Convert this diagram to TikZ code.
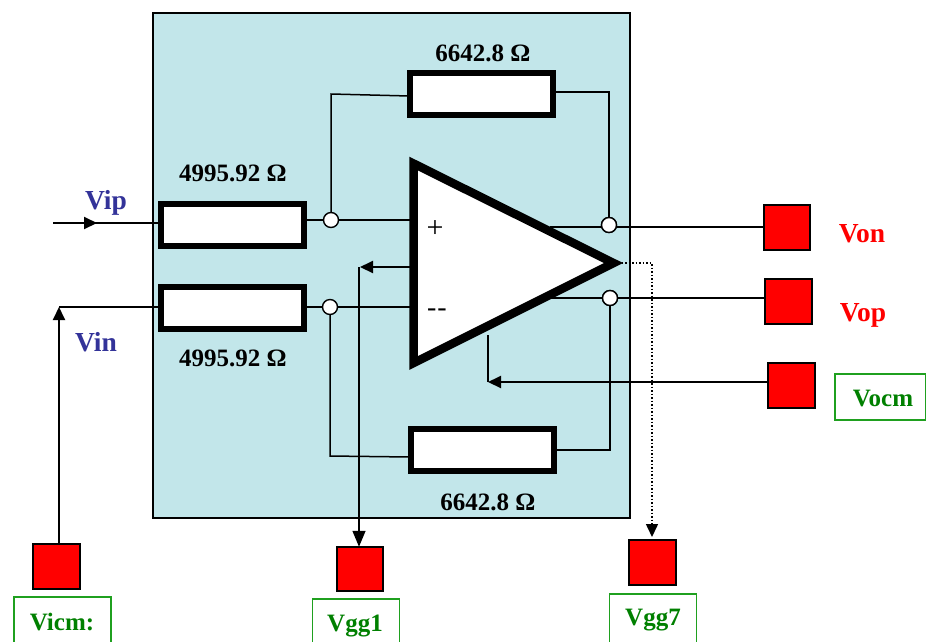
\documentclass[tikz,border=0pt]{standalone}
\usepackage{fontspec}
\setmainfont{Liberation Serif}
\usetikzlibrary{arrows.meta}
\definecolor{panel}{HTML}{C2E6EA}
\definecolor{vblue}{HTML}{333399}
\definecolor{vgreen}{HTML}{008000}
\definecolor{gbox}{HTML}{1FA01F}
\tikzset{
  lbl/.style={font=\fontsize{25}{28}\selectfont\bfseries,inner sep=0pt},
  biglbl/.style={font=\fontsize{27.5}{30}\selectfont\bfseries,inner sep=0pt},
  inlbl/.style={biglbl,text=vblue},
  outlbl/.style={biglbl,text=red},
  genlbl/.style={lbl,text=vgreen},
  gbox/.style={draw=gbox,line width=1.6pt,fill=white},
  res/.style={draw=black,fill=white,line width=6pt,minimum width=143pt,minimum height=42pt,inner sep=0pt,outer sep=0pt},
  pad/.style={draw=black,fill=red,line width=1.6pt,minimum width=46.5pt,minimum height=44.5pt,inner sep=0pt,outer sep=0pt},
  junc/.style={circle,draw=black,fill=white,line width=1.4pt,minimum size=15pt,inner sep=0pt,outer sep=0pt},
  wire/.style={line width=1.5pt},
  hwire/.style={line width=2pt},
  tip/.style={-{Triangle[length=13pt,width=12pt]}},
  longtip/.style={-{Triangle[length=16pt,width=13pt]}}
}
\begin{document}
\begin{tikzpicture}[x=1pt,y=-1pt]
\useasboundingbox (0,0) rectangle (926,641);
\fill[white] (0,0) rectangle (926,641);
\draw[black,fill=panel,line width=1.7pt] (153,13) rectangle (630,518);

% pins and free ends
\coordinate (ipfree) at (53,223);
\coordinate (ipmid) at (97,223);
\coordinate (infree) at (59,307);
\coordinate (plusin) at (413,220);
\coordinate (minusin) at (413,307);
\coordinate (vddpin) at (413,267);
\coordinate (vddend) at (360,267);
\coordinate (vcmend) at (488,382);
\coordinate (vcmpin) at (488,335);
\coordinate (outp) at (550,227);
\coordinate (outn) at (550,298);
\coordinate (tipo) at (618,263);
\coordinate (g7corner) at (652,263);
\coordinate (topbend) at (331,94);
\coordinate (botbend) at (330,456);
\coordinate (g1arrow) at (359,267);

% red pads
\node[pad] (von) at (787,227.5) {};
\node[pad] (vop) at (788.5,301.5) {};
\node[pad] (vocmpad) at (791.5,385.5) {};
\node[pad] (vicmpad) at (56.5,566.5) {};
\node[pad] (vg1pad) at (360,569) {};
\node[pad] (vg7pad) at (652.5,562.5) {};

% resistors
\node[res] (r1) at (232.5,225) {};
\node[res] (r2) at (232.5,308) {};
\node[res] (r3) at (481,94) {};
\node[res] (r4) at (482,450) {};

% junctions
\node[junc] (j1) at (331,220) {};
\node[junc] (j2) at (330,307) {};
\node[junc] (j3) at (609,225) {};
\node[junc] (j4) at (610,298) {};

% wires
\draw[hwire] (ipfree) -- (ipmid);
\draw[hwire,tip] (ipfree) -- (ipmid);
\draw[wire] (ipmid) -- (ipmid -| r1.west);
\draw[wire] (infree) -- (infree -| r2.west);
\draw[hwire,tip] (vicmpad.north -| infree) -- (infree);
\draw[wire] (r1.east |- j1) -- (j1);
\draw[wire] (j1) -- (plusin);
\draw[wire] (r2.east |- j2) -- (j2);
\draw[wire] (j2) -- (minusin);
\draw[wire] (j1) -- (topbend) -- (r3.west |- 0,96);
\draw[wire] (r3.east |- 0,92) -- (j3 |- 0,92) -- (j3);
\draw[wire] (j2) -- (botbend) -- (r4.west |- 0,457);
\draw[wire] (r4.east) -- (j4 |- r4.east) -- (j4);
\draw[wire] (outp) -- (j3 |- outp);
\draw[wire] (j3 |- outp) -- (von.west |- outp);
\draw[wire] (outn) -- (j4);
\draw[wire] (j4) -- (vop.west |- j4);
\draw[hwire,tip] (vocmpad.west |- vcmend) -- (vcmend);
\draw[wire] (vcmend) -- (vcmpin);
\draw[hwire,tip] (vddpin) -- (vddend);
\draw[wire] (g1arrow) -- (g1arrow |- 0,525);
\draw[wire,longtip] (g1arrow |- 0,525) -- (vg1pad.north -| g1arrow);
\draw[line width=1.5pt,dotted] (tipo) -- (g7corner) -- (g7corner |- 0,525);
\draw[line width=1.5pt,tip] (g7corner |- 0,523) -- (g7corner |- 0,537);

% amplifier
\draw[line width=8.5pt,miter limit=10,fill=white] (413.5,163.5) -- (613.5,263) -- (413.5,363) -- cycle;
\node[inner sep=0pt,font=\fontsize{30}{32}\selectfont] (plus) at (435,229) {+};
\node[inner sep=0pt,font=\fontsize{28}{30}\selectfont] (minus) at (437,313) {-\kern1pt-};
\node[junc] at (j3) {};
\node[junc] at (j4) {};

% labels
\node[lbl] (l3) at (483,53) {6642.8 Ω};
\node[lbl] (l1) at (233,173) {4995.92 Ω};
\node[lbl] (l2) at (233,358) {4995.92 Ω};
\node[lbl] (l4) at (488,502) {6642.8 Ω};
\node[inlbl] (vip) at (106,202.5) {Vip};
\node[inlbl] (vin) at (96,342) {Vin};
\node[outlbl] (vonl) at (862,233.5) {Von};
\node[outlbl] (vopl) at (863,315) {Vop};
\node[gbox,minimum width=91pt,minimum height=46pt] (vocmb) at (880.5,397) {};
\node[genlbl] (vocml) at (883,398) {Vocm};
\node[gbox,minimum width=97pt,minimum height=50pt] (vicmb) at (62.5,622) {};
\node[genlbl] (vicml) at (62,622) {Vicm:};
\node[gbox,minimum width=87pt,minimum height=50pt] (vg1b) at (356,624) {};
\node[genlbl] (vg1l) at (355,626) {Vgg1};
\node[gbox,minimum width=87pt,minimum height=50pt] (vg7b) at (653,619) {};
\node[genlbl] (vg7l) at (653,620.5) {Vgg7};
\end{tikzpicture}
\end{document}
